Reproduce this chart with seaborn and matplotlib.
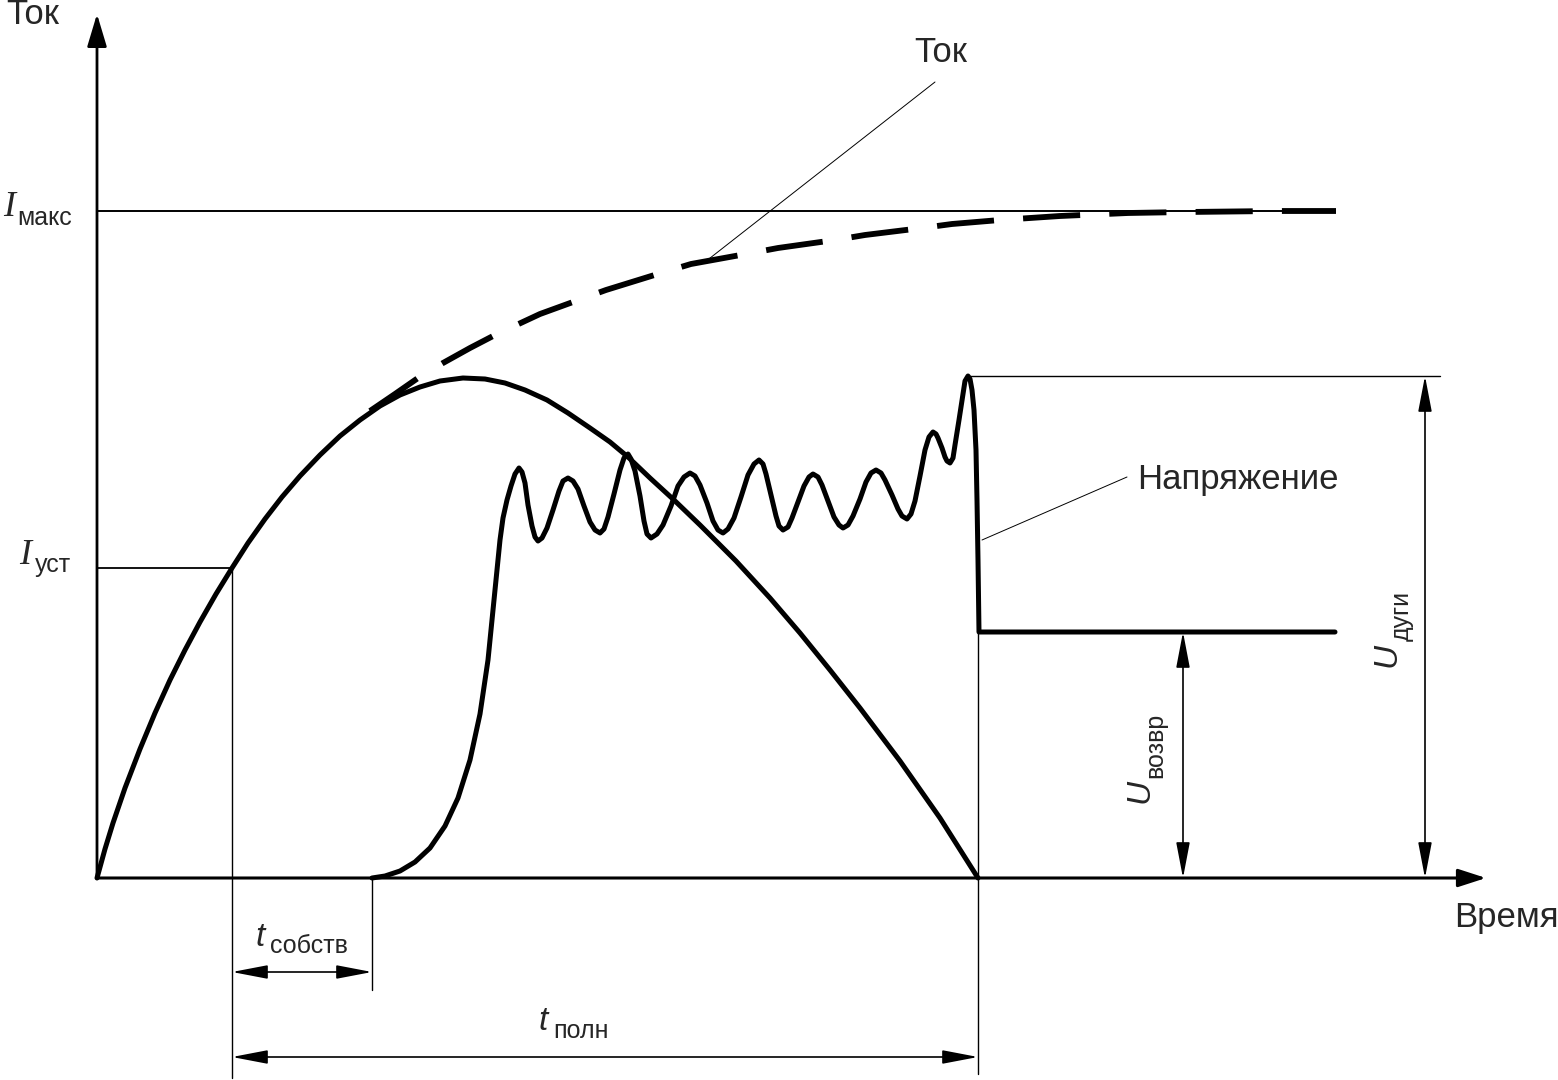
import numpy as np
import seaborn as sns
import matplotlib.pyplot as plt

# schematic units: time from the origin, value up from the time axis
cur_t = [0, 8, 16, 28, 43, 58, 73, 88, 103, 119, 135, 151, 168, 185, 203,
         223, 243, 263, 283, 303, 323, 343, 366, 388, 408, 428, 450, 471,
         493, 513, 531, 553, 577, 603, 639, 673, 703, 733, 763, 803, 843, 881]
cur_v = [0, 29, 55, 90, 129, 165, 198, 228, 256, 284, 310, 335, 359, 381, 402,
         423, 442, 458, 472, 483, 491, 497, 500, 499, 495, 488, 478, 465,
         450, 436, 421, 400, 378, 353, 317, 280, 245, 208, 170, 117, 60, 0]

# prospective current (dashed)
env_t = [273, 298, 321, 346, 373, 398, 443, 509, 564, 594, 649, 681, 738, 768,
         825, 855, 903, 963, 1031, 1090, 1179, 1239]
env_v = [467, 484, 500, 515, 530, 543, 564, 588, 605, 614, 624, 630, 638, 643,
         650, 654, 658, 662, 665, 666, 667, 667]

# arc voltage
volt_t = [275, 288, 303, 318, 333, 348, 361, 373, 383, 391, 397, 400, 403, 406,
          410, 414, 418, 422,
          425, 428, 431, 435, 438, 441,
          445, 450, 456, 462, 466, 471,
          476, 481, 487, 493, 498, 503,
          507, 511, 517, 523, 527, 531,
          534, 538, 543, 547, 550, 554,
          560, 566, 574, 581, 587, 593,
          598, 603, 610, 616, 621, 626,
          631, 637, 644, 651, 657, 662,
          666, 669, 674, 679, 682, 686,
          691, 695, 701, 707, 712, 716,
          721, 725, 731, 737, 742, 746,
          751, 756, 763, 769, 774, 779,
          784, 788, 795, 801, 805, 810,
          814, 818, 823, 828, 832, 836,
          839, 841, 845, 848, 850, 853,
          856, 858, 862, 866, 868, 871,
          873, 875, 877, 879, 880, 881, 882, 1238]
volt_v = [0, 2, 7, 16, 30, 52, 80, 118, 164, 218, 278, 308, 338, 360,
          378, 392, 404, 410,
          406, 395, 373, 352, 341, 337,
          340, 350, 368, 387, 397, 400,
          397, 389, 372, 356, 348, 345,
          349, 361, 384, 408, 420, 424,
          419, 407, 382, 357, 344, 340,
          344, 353, 372, 392, 401, 405,
          402, 393, 375, 357, 348, 345,
          349, 360, 381, 403, 414, 418,
          414, 404, 383, 362, 352, 348,
          351, 360, 376, 392, 401, 404,
          401, 393, 377, 361, 353, 350,
          353, 362, 379, 396, 405, 408,
          405, 398, 383, 369, 362, 359,
          364, 377, 402, 428, 441, 446,
          444, 440, 430, 421, 417, 415,
          420, 433, 458, 484, 497, 502,
          499, 488, 468, 428, 378, 318, 246, 246]

# levels and instants
i_max = 667
i_set = 310
t_set = 135
t_open = 275
t_end = 881
u_peak = 502
u_peak_t = 871
u_ret = 246
u_ret_end = 1238

sns.set_style("white")
plt.rcParams['font.family'] = ['Liberation Sans', 'DejaVu Sans']

fig = plt.figure(figsize=(15.58, 10.8), dpi=100)
ax = fig.add_axes([0, 0, 1, 1])
ax.set_xlim(-97, 1461)
ax.set_ylim(-202, 878)
ax.axis('off')

thin = dict(color='k', lw=1.0)
# reference lines
ax.plot([0, u_ret_end], [i_max, i_max], color='k', lw=1.4)
ax.plot([0, t_set], [i_set, i_set], color='k', lw=1.3)
ax.plot([t_set, t_set], [i_set, -200], **thin)
ax.plot([t_open, t_open], [0, -112], **thin)
ax.plot([t_end, t_end], [u_ret, -196], **thin)
ax.plot([u_peak_t, 1343], [u_peak, u_peak], **thin)

# axes with arrows
ax.annotate('', xy=(0, 864), xytext=(0, 0),
            arrowprops=dict(arrowstyle='-|>,head_length=2.0,head_width=0.6',
                            color='k', lw=2, shrinkA=0, shrinkB=0))
ax.annotate('', xy=(1389, 0), xytext=(0, 0),
            arrowprops=dict(arrowstyle='-|>,head_length=1.7,head_width=0.55',
                            color='k', lw=2.2, shrinkA=0, shrinkB=0))

# curves
sns.lineplot(x=cur_t, y=cur_v, sort=False, estimator=None, color='k', lw=3.6,
             solid_joinstyle='round', ax=ax)
sns.lineplot(x=env_t, y=env_v, sort=False, estimator=None, color='k', lw=4.2,
             linestyle=(0, (9.8, 5.0)), dash_capstyle='butt', ax=ax)
sns.lineplot(x=volt_t, y=volt_v, sort=False, estimator=None, color='k', lw=3.6,
             solid_joinstyle='round', ax=ax)

# dimension arrows
dim = dict(arrowstyle='<|-|>,head_length=2.2,head_width=0.42', color='k',
           lw=1.2, shrinkA=0, shrinkB=0)
ax.annotate('', xy=(t_set, -94), xytext=(t_open, -94), arrowprops=dim)
ax.annotate('', xy=(t_set, -179), xytext=(t_end, -179), arrowprops=dim)
ax.annotate('', xy=(1086, u_ret), xytext=(1086, 0), arrowprops=dim)
ax.annotate('', xy=(1328, u_peak), xytext=(1328, 0), arrowprops=dim)

# leader lines
ax.plot([838, 608], [796, 616], color='k', lw=0.7)
ax.plot([1030, 885], [401, 338], color='k', lw=0.7)

# labels
fs = 25
sub = 18
serif_it = dict(family='Liberation Serif', style='italic', fontsize=26)
sans_it = dict(family='Liberation Sans', style='italic', fontsize=24)

ax.text(-64, 863, 'Ток', fontsize=fs, ha='center', va='center')
ax.text(1409, -40, 'Время', fontsize=fs, ha='center', va='center')
ax.text(844, 826, 'Ток', fontsize=fs, ha='center', va='center')
ax.text(1040, 398, 'Напряжение', fontsize=fs, ha='left', va='center')

ax.text(-88, 670, 'I', ha='center', va='center', **serif_it)
ax.text(-80, 660, 'макс', fontsize=sub, ha='left', va='center')
ax.text(-72, 323, 'I', ha='center', va='center', **serif_it)
ax.text(-62, 313, 'уст', fontsize=sub, ha='left', va='center')

ax.text(163, -60, 't', ha='center', va='center', **sans_it)
ax.text(173, -68, 'собств', fontsize=sub, ha='left', va='center')
ax.text(446, -143, 't', ha='center', va='center', **sans_it)
ax.text(456, -153, 'полн', fontsize=sub, ha='left', va='center')

ax.text(1043, 87, 'U', ha='center', va='center', rotation=90, **sans_it)
ax.text(1058, 133, 'возвр', fontsize=sub, ha='center', va='center', rotation=90)
ax.text(1290, 223, 'U', ha='center', va='center', rotation=90, **sans_it)
ax.text(1305, 262, 'дуги', fontsize=sub, ha='center', va='center', rotation=90)

fig.savefig('out.png', dpi=100)
